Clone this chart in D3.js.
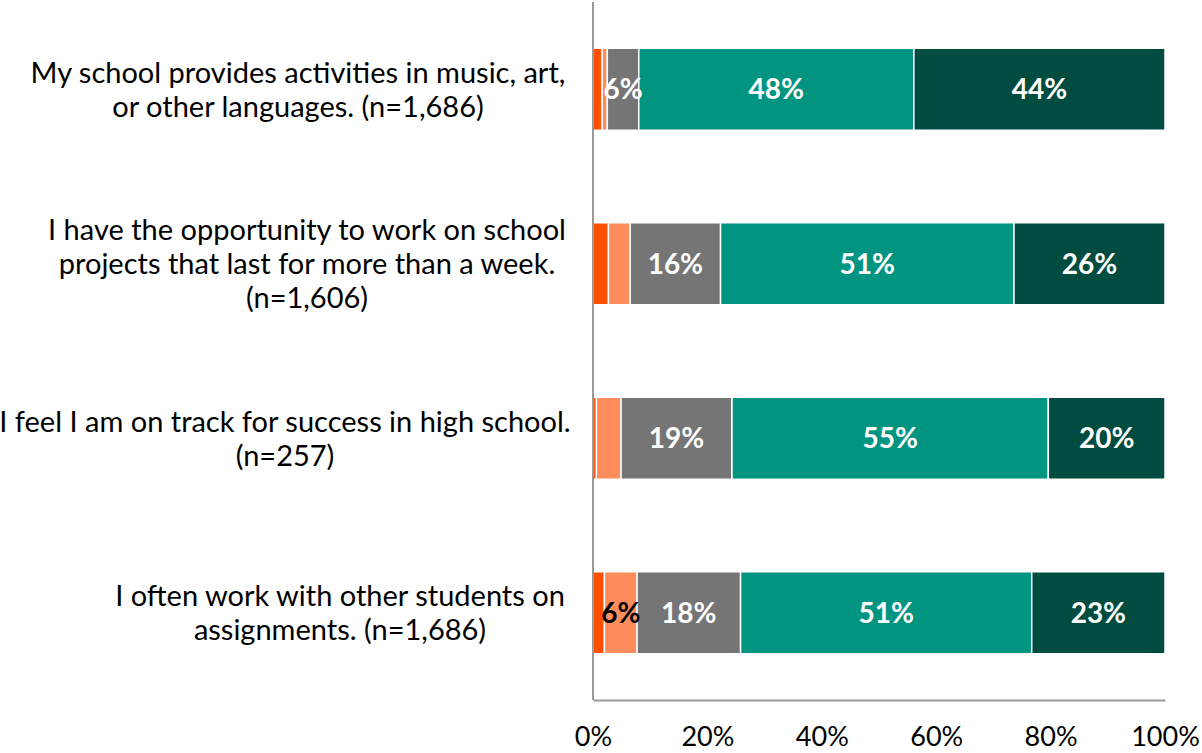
<!DOCTYPE html>
<html><head><meta charset="utf-8">
<script src="https://cdn.jsdelivr.net/npm/d3@7"></script>
<style>
html,body{margin:0;padding:0;background:#fff;}
svg{display:block;font-family:Lato,"Open Sans",sans-serif;}
</style></head>
<body>
<svg id="chart" width="1202" height="753"></svg>
<script>
// ---- data ----
const categories = [
  ["My school provides activities in music, art,", "or other languages. (n=1,686)"],
  ["I have the opportunity to work on school", "projects that last for more than a week.", "(n=1,606)"],
  ["I feel I am on track for success in high school.", "(n=257)"],
  ["I often work with other students on", "assignments. (n=1,686)"]
];
const seriesNames = ["Strongly disagree", "Disagree", "Neutral", "Agree", "Strongly agree"];
const stronglyDisagree = [1.6, 2.7, 0.6, 2.0];
const disagree         = [0.9, 3.8, 4.3, 5.7];
const neutral          = [5.5, 15.8, 19.4, 18.1];
const agree            = [48.1, 51.3, 55.3, 50.9];
const stronglyAgree    = [43.9, 26.4, 20.4, 23.3];
const tickValues = [0, 20, 40, 60, 80, 100];
const tickLabels = ["0%", "20%", "40%", "60%", "80%", "100%"];

const colors = ["#FF5000", "#FF8C5C", "#757575", "#009481", "#004C40"];
const labelColors = ["#fff", "#000", "#fff", "#fff", "#fff"];

const seriesValues = [stronglyDisagree, disagree, neutral, agree, stronglyAgree];
const rows = categories.map((c, i) => {
  const r = {key: i};
  seriesNames.forEach((s, j) => r[s] = seriesValues[j][i]);
  return r;
});
const stacked = d3.stack().keys(seriesNames)(rows);

const svg = d3.select("#chart");
const x = d3.scaleLinear().domain([0, 100]).range([593, 1165]);
const y = d3.scaleBand().domain(d3.range(categories.length)).range([2, 700])
  .paddingInner(0.53).paddingOuter(0.265);

// bars
const g = svg.append("g");
stacked.forEach((layer, j) => {
  g.selectAll(null).data(layer).enter().append("rect")
    .attr("x", d => x(d[0]))
    .attr("y", (d, i) => y(i))
    .attr("width", d => x(d[1]) - x(d[0]))
    .attr("height", y.bandwidth())
    .attr("fill", colors[j])
    .attr("stroke", "#fff")
    .attr("stroke-width", 1.5);
});
// value labels
stacked.forEach((layer, j) => {
  g.selectAll(null).data(layer.filter(d => (d[1] - d[0]) >= 5)).enter().append("text")
    .attr("x", d => x((d[0] + d[1]) / 2))
    .attr("y", d => y(d.data.key) + y.bandwidth() / 2)
    .attr("dy", "0.36em")
    .attr("text-anchor", "middle")
    .attr("font-size", 28)
    .attr("font-weight", "bold")
    .attr("fill", labelColors[j])
    .text(d => Math.round(d[1] - d[0]) + "%");
});

// axes lines
svg.append("line").attr("x1", x(0)).attr("x2", x(0)).attr("y1", 2).attr("y2", 700)
  .attr("stroke", "#999").attr("stroke-width", 2);
const xAxis = d3.axisBottom(x).tickValues(tickValues).tickFormat((d, i) => tickLabels[i]).tickSize(0).tickPadding(27);
const ax = svg.append("g").attr("transform", "translate(0,700)").call(xAxis);
ax.select(".domain").attr("stroke", "#999").attr("stroke-width", 2);
ax.selectAll("text").attr("font-size", 27).attr("font-family", "Lato, sans-serif").attr("fill", "#000");

// category labels (centred blocks as in the original wrapping)
const lineH = 34;
const labelCenters = [298, 307, 285, 340];
categories.forEach((lines, i) => {
  const cy = y(i) + y.bandwidth() / 2;
  const t = svg.append("text").attr("text-anchor", "middle").attr("font-size", 29).attr("fill", "#000");
  lines.forEach((ln, k) => {
    t.append("tspan")
      .attr("x", labelCenters[i])
      .attr("y", cy + (k - (lines.length - 1) / 2) * lineH)
      .attr("dy", "0.36em")
      .text(ln);
  });
});
</script>
</body></html>
